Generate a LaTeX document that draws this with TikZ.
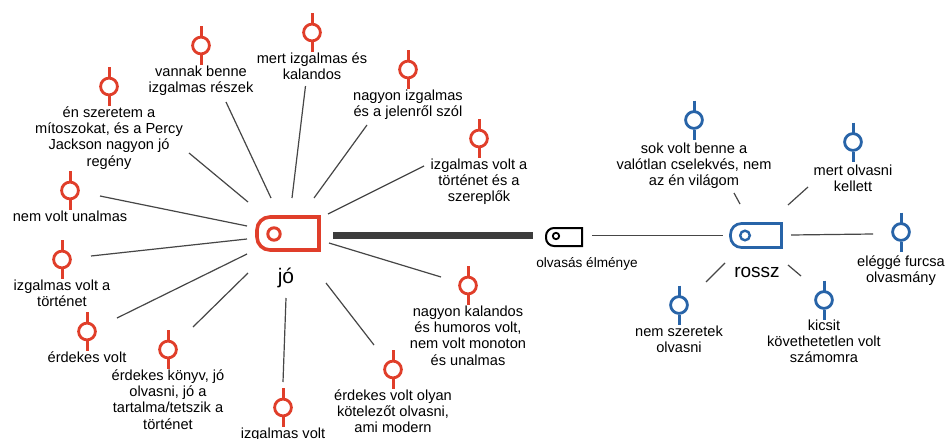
\documentclass[tikz,border=0pt]{standalone}
\usepackage{fontspec}
\setmainfont{Liberation Sans}
\definecolor{goodred}{RGB}{224,62,42}
\definecolor{badblue}{RGB}{40,100,168}
\definecolor{linkgray}{RGB}{70,70,70}
\definecolor{bargray}{RGB}{60,60,60}
\begin{document}
\begin{tikzpicture}[x=1pt,y=-1pt,
  leaf/.style={align=center, inner sep=0pt, anchor=north,
    font=\fontsize{14.6}{16.2}\selectfont},
  link/.style={draw=linkgray, line width=1.2pt},
  spot/.style={inner sep=0pt, minimum size=0pt},
  lolly/.pic={
    \draw[line width=3pt] (0,-19.5) -- (0,-9.5) (0,9.5) -- (0,19.5);
    \draw[line width=2.8pt] (0,0) circle[radius=8.4pt];
  }]
\fill[white] (0,0) rectangle (946,439);
\useasboundingbox (0,0) rectangle (946,439);

% ---------- hub icons ----------
\node[spot, minimum width=66pt, minimum height=37pt] (jo) at (288,233.5) {};
\draw[goodred, line width=3.6pt] (319,217) -- (270,217)
  .. controls (262.8,217) and (257,222.8) .. (257,230) -- (257,237)
  .. controls (257,244.2) and (262.8,250) .. (270,250) -- (319,250) -- cycle;
\draw[goodred, line width=3pt] (274,234) circle[radius=6.2pt];
\node[inner sep=0pt, anchor=base, font=\fontsize{21}{24}\selectfont] (joText) at (286,283) {jó};

\node[spot, minimum width=38pt, minimum height=20pt] (elmeny) at (564,237) {};
\draw[black, line width=2pt] (582,228) -- (554,228)
  .. controls (549.6,228) and (546,231.6) .. (546,236) -- (546,238)
  .. controls (546,242.4) and (549.6,246) .. (554,246) -- (582,246) -- cycle;
\draw[black, line width=1.8pt] (556,236) circle[radius=3.2pt];
\node[inner sep=0pt, anchor=base, font=\fontsize{13.6}{16}\selectfont] (elmenyText) at (587,267) {olvasás élménye};

\node[spot, minimum width=54pt, minimum height=27pt] (rossz) at (756,235.5) {};
\draw[badblue, line width=2.7pt] (781.5,223.5) -- (741.5,223.5)
  .. controls (735.4,223.5) and (730.5,228.4) .. (730.5,234.5) -- (730.5,236.5)
  .. controls (730.5,242.6) and (735.4,247.5) .. (741.5,247.5) -- (781.5,247.5) -- cycle;
\draw[badblue, line width=2.4pt] (745,235.5) circle[radius=4.8pt];
\node[inner sep=0pt, anchor=base, font=\fontsize{19}{22}\selectfont] (rosszText) at (757,277) {rossz};

% ---------- links between the hubs ----------
\coordinate (barL) at (333,235);
\coordinate (barR) at (533,235);
\draw[bargray, line width=7pt] (barL) -- (barR);
\coordinate (midL) at (592,235.5);
\coordinate (midR) at (723,235.5);
\draw[link] (midL) -- (midR);

% ---------- positive answers ----------
\node[leaf] (tA) at (201,65) {\strut vannak benne\\izgalmas részek};
\node[leaf] (tB) at (312,52) {\strut mert izgalmas és\\kalandos};
\node[leaf] (tC) at (408,89) {\strut nagyon izgalmas\\és a jelenről szól};
\node[leaf] (tD) at (479,158) {\strut izgalmas volt a\\történet és a\\szereplők};
\node[leaf] (tE) at (109,106) {\strut én szeretem a\\mítoszokat, és a Percy\\Jackson nagyon jó\\regény};
\node[leaf] (tF) at (70,210) {\strut nem volt unalmas};
\node[leaf] (tG) at (62,279) {\strut izgalmas volt a\\történet};
\node[leaf] (tH) at (87,351) {\strut érdekes volt};
\node[leaf] (tI) at (168,369) {\strut érdekes könyv, jó\\olvasni, jó a\\tartalma/tetszik a\\történet};
\node[leaf] (tJ) at (283,427) {\strut izgalmas volt};
\node[leaf] (tK) at (468,305) {\strut nagyon kalandos\\és humoros volt,\\nem volt monoton\\és unalmas};
\node[leaf] (tL) at (393,389) {\strut érdekes volt olyan\\kötelezőt olvasni,\\ami modern};

\foreach \t in {tA,tB,tC,tD,tE,tF,tG,tH,tI,tJ,tK,tL}
  \pic[goodred] at ([yshift=19.5pt]\t.north) {lolly};

\coordinate (aA1) at (226,102); \coordinate (aA2) at (271,198);
\coordinate (aB1) at (305.5,86); \coordinate (aB2) at (292,198);
\coordinate (aC1) at (367,125); \coordinate (aC2) at (314,198);
\coordinate (aD1) at (424,166); \coordinate (aD2) at (328,214);
\coordinate (aE1) at (189,153); \coordinate (aE2) at (248,202);
\coordinate (aF1) at (100,196); \coordinate (aF2) at (247,226);
\coordinate (aG1) at (91,256);  \coordinate (aG2) at (247,239);
\coordinate (aH1) at (117,318); \coordinate (aH2) at (247,254);
\coordinate (aI1) at (193,327); \coordinate (aI2) at (248,273);
\coordinate (aJ1) at (283,382); \coordinate (aJ2) at (286,298);
\coordinate (aK1) at (441,277); \coordinate (aK2) at (329,243);
\coordinate (aL1) at (374,345); \coordinate (aL2) at (326,283);
\foreach \k in {A,B,C,D,E,F,G,H,I,J,K,L}
  \draw[link] (a\k1) -- (a\k2);

% ---------- negative answers ----------
\node[leaf] (uA) at (694,142) {\strut sok volt benne a\\valótlan cselekvés, nem\\az én világom};
\node[leaf] (uB) at (853,164) {\strut mert olvasni\\kellett};
\node[leaf] (uC) at (901,255) {\strut eléggé furcsa\\olvasmány};
\node[leaf] (uD) at (679,325) {\strut nem szeretek\\olvasni};
\node[leaf] (uE) at (824,319) {\strut kicsit\\követhetetlen volt\\számomra};

\pic[badblue] at ([yshift=22pt]uA.north) {lolly};
\pic[badblue] at ([yshift=22pt]uB.north) {lolly};
\pic[badblue] at ([yshift=23pt]uC.north) {lolly};
\pic[badblue] at ([yshift=20pt]uD.north) {lolly};
\pic[badblue] at ([yshift=19pt]uE.north) {lolly};

\coordinate (bA1) at (734,193); \coordinate (bA2) at (740,204);
\coordinate (bB1) at (808,187); \coordinate (bB2) at (788,205);
\coordinate (bC1) at (873,234); \coordinate (bC2) at (791,235);
\coordinate (bD1) at (706,282); \coordinate (bD2) at (725,263);
\coordinate (bE1) at (801,276); \coordinate (bE2) at (788,265);
\foreach \k in {A,B,C,D,E}
  \draw[link] (b\k1) -- (b\k2);
\end{tikzpicture}
\end{document}
